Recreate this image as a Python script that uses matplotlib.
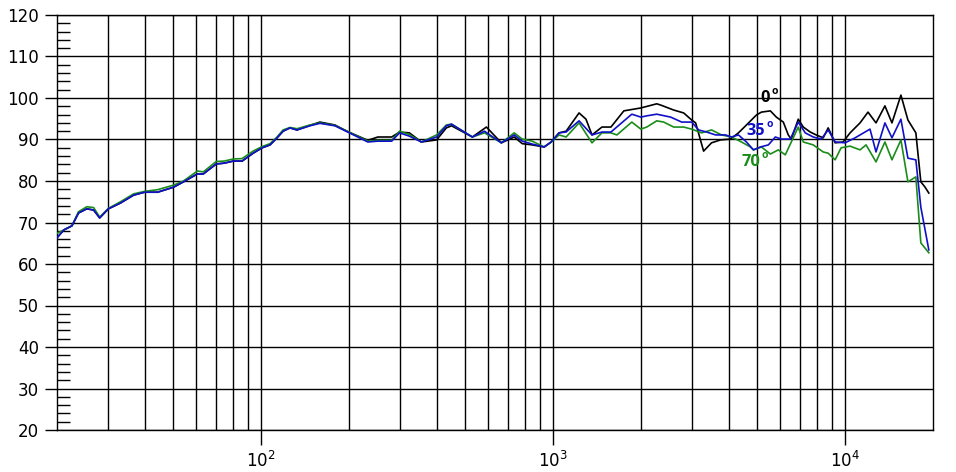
import matplotlib
matplotlib.use("Agg")
import matplotlib.pyplot as plt
import numpy as np
from matplotlib.ticker import FixedLocator, NullFormatter

plt.rcParams['font.family'] = ['DejaVu Sans']
plt.rcParams['mathtext.default'] = 'regular'

# ---- data (frequency in Hz, level in dB) ----
freq_low = [20, 21.1, 22.5, 23.7, 25.3, 26.7, 28.0, 30.0, 33.0, 36.6, 39.9, 44.2, 50.1,
            54.2, 60.5, 63.4, 70.2, 74.7, 80.3, 86.1, 93.9, 100.8, 107.3, 113.4, 118.9,
            125.6, 132.7, 147, 159, 179, 198, 232, 251, 280, 298]
level_low_common = [66.3, 68.2, 69.2, 72.3, 73.3, 73.0, 71.1, 73.3, 74.7, 76.6, 77.3, 77.3, 78.5,
                    79.8, 81.7, 81.7, 84.1, 84.3, 84.8, 84.8, 86.7, 88.0, 88.7, 90.4, 92.0,
                    92.8, 92.3, 93.3, 93.9, 93.3, 91.8, 89.4, 89.6, 89.6, 91.6]
level_low_black = [66.3, 68.2, 69.2, 72.3, 73.3, 73.0, 71.1, 73.3, 74.7, 76.6, 77.3, 77.3, 78.5,
                   79.8, 81.7, 81.7, 84.1, 84.3, 84.8, 84.8, 86.7, 88.0, 88.7, 90.4, 92.0,
                   92.8, 92.3, 93.4, 94.2, 93.5, 91.9, 89.8, 90.6, 90.6, 91.8]
level_low_green = [67.4, 68.2, 69.2, 72.6, 73.8, 73.6, 71.3, 73.4, 75.0, 76.9, 77.5, 77.9, 79.0,
                   80.0, 82.4, 82.2, 84.7, 84.8, 85.3, 85.4, 87.2, 88.3, 89.0, 90.6, 92.3,
                   92.9, 92.6, 93.5, 94.0, 93.4, 91.9, 89.6, 89.8, 89.8, 92.0]

freq_0 = [322, 354, 399, 431, 449, 529, 591, 665, 736, 784, 848, 932, 985, 1048, 1108, 1227,
          1296, 1359, 1470, 1578, 1747, 1997, 2264, 2336, 2588, 2800, 2982, 3077, 3277, 3488,
          3745, 4050, 4313, 4594, 4969, 5169, 5547, 5814, 6143, 6389, 6542, 6912, 7190, 7596,
          7962, 8413, 8750, 9245, 9844, 10400, 11250, 11980, 12760, 13690, 14470, 15530,
          16410, 17470, 18170, 18750, 19350]
level_0 = [91.6, 89.4, 89.9, 92.8, 93.3, 90.6, 93.0, 89.2, 90.6, 89.0, 88.7, 88.2, 89.4, 91.6,
           92.0, 96.4, 94.9, 91.1, 93.0, 93.0, 96.9, 97.6, 98.6, 98.3, 97.1, 96.4, 94.7, 94.0,
           87.2, 89.2, 89.9, 90.1, 91.6, 93.5, 95.9, 96.6, 96.9, 95.4, 94.2, 91.1, 90.1, 94.9,
           93.0, 91.8, 91.1, 90.4, 92.8, 89.2, 89.4, 91.6, 94.0, 96.6, 94.0, 98.1, 94.0, 100.7,
           94.7, 91.6, 79.8, 78.6, 77.1]

freq_35 = [322, 354, 399, 431, 449, 529, 582, 665, 736, 784, 848, 932, 985, 1048, 1108, 1227,
           1359, 1470, 1578, 1860, 1997, 2093, 2264, 2527, 2756, 2982, 3150, 3355, 3601, 3895,
           4082, 4313, 4594, 4853, 5128, 5461, 5769, 6047, 6491, 6912, 7304, 7778, 8282, 8750,
           9245, 10000, 10820, 12170, 12760, 13690, 14470, 15530, 16410, 17470, 18170, 19350]
level_35 = [90.8, 89.4, 90.6, 93.3, 93.7, 90.6, 92.0, 89.2, 91.1, 89.6, 88.9, 88.2, 89.4, 91.6,
            91.8, 94.5, 91.1, 91.8, 91.8, 96.1, 95.4, 95.7, 96.1, 95.4, 94.2, 94.2, 92.3, 91.8,
            91.1, 91.1, 90.6, 91.1, 89.4, 87.5, 88.2, 88.7, 90.6, 90.1, 90.1, 94.2, 91.6, 90.6,
            90.1, 92.3, 89.4, 89.2, 90.4, 92.5, 87.0, 94.0, 90.4, 94.9, 85.5, 85.1, 73.7, 63.4]

freq_70 = [322, 354, 399, 431, 449, 529, 582, 665, 736, 784, 848, 932, 985, 1048, 1108, 1227,
           1359, 1470, 1578, 1654, 1860, 1997, 2093, 2264, 2392, 2588, 2800, 2982, 3226, 3488,
           3775, 4082, 4417, 4741, 4853, 5169, 5547, 5906, 6240, 6912, 7190, 7778, 8413, 8750,
           9245, 9690, 10400, 11250, 11800, 12760, 13690, 14470, 15530, 16410, 17470, 18170,
           19350]
level_70 = [91.2, 89.4, 91.1, 93.5, 93.7, 90.6, 91.6, 89.2, 91.6, 90.1, 89.6, 88.2, 89.4, 91.1,
            90.6, 94.0, 89.2, 91.6, 91.6, 91.1, 94.2, 92.5, 93.0, 94.5, 94.2, 93.0, 93.0, 92.5,
            91.6, 92.3, 91.1, 90.6, 89.4, 88.2, 87.5, 88.2, 86.5, 87.5, 86.3, 93.0, 89.4, 88.7,
            87.0, 86.7, 85.1, 88.0, 88.4, 87.5, 88.7, 84.6, 89.4, 85.1, 89.9, 79.8, 81.0, 65.1,
            62.7]

curve_labels = ["0", "35", "70"]
label_freqs = [5130, 4594, 4417]
label_levels = [100.1, 92.0, 84.5]
curve_colors = ["#000000", "#1010c8", "#1a8c1a"]

y_major = list(range(20, 121, 10))
y_minor = list(range(20, 121, 2))
x_major = [100, 1000, 10000]
x_major_labels = ["$10^2$", "$10^3$", "$10^4$"]

# ---- figure ----
fig = plt.figure(figsize=(9.56, 4.72), dpi=100)
ax = fig.add_axes([57/956, 1-430/472, (933-57)/956, (430-15)/472])

x_grid = [m * 10**e for e in range(1, 5) for m in range(1, 10)]
x_grid = [v for v in x_grid if 20 < v < 20000]
for v in x_grid:
    ax.axvline(v, color='black', lw=1.0, zorder=1)
for v in y_major:
    ax.axhline(v, color='black', lw=1.0, zorder=1)

ax.plot(freq_low + freq_0, level_low_black + level_0, color=curve_colors[0], lw=1.2, zorder=3)
ax.plot(freq_low + freq_70, level_low_green + level_70, color=curve_colors[2], lw=1.2, zorder=4)
ax.plot(freq_low + freq_35, level_low_common + level_35, color=curve_colors[1], lw=1.2, zorder=5)

digit_w_pt = 6.9
for lab, f, lv, c in zip(curve_labels, label_freqs, label_levels, curve_colors):
    ax.text(f, lv, lab, color=c, fontsize=11.8, fontweight='bold', family='Open Sans',
            ha='left', va='center', zorder=6)
    ax.annotate("o", xy=(f, lv), xytext=(len(lab) * digit_w_pt + 0.8, 4.6),
                textcoords='offset points', color=c, fontsize=7.5, family='Open Sans',
                fontweight='bold', ha='left', va='center', zorder=6)

ax.set_xscale('log')
ax.set_xlim(20, 20000)
ax.set_ylim(20, 120)

ax.xaxis.set_major_locator(FixedLocator(x_major))
ax.set_xticklabels(x_major_labels)
ax.xaxis.set_minor_locator(FixedLocator([]))
ax.xaxis.set_minor_formatter(NullFormatter())
ax.tick_params(axis='x', which='major', direction='out', length=11, width=1, pad=4,
               labelsize=12, colors='black')

ax.yaxis.set_major_locator(FixedLocator(y_major))
ax.yaxis.set_minor_locator(FixedLocator(y_minor))
ax.tick_params(axis='y', which='major', direction='out', length=9, width=1, pad=4,
               labelsize=12)
ax.tick_params(axis='y', which='minor', direction='in', length=9, width=1)

for s in ax.spines.values():
    s.set_color('black')
    s.set_linewidth(1.0)

fig.savefig("out.png", dpi=100)
